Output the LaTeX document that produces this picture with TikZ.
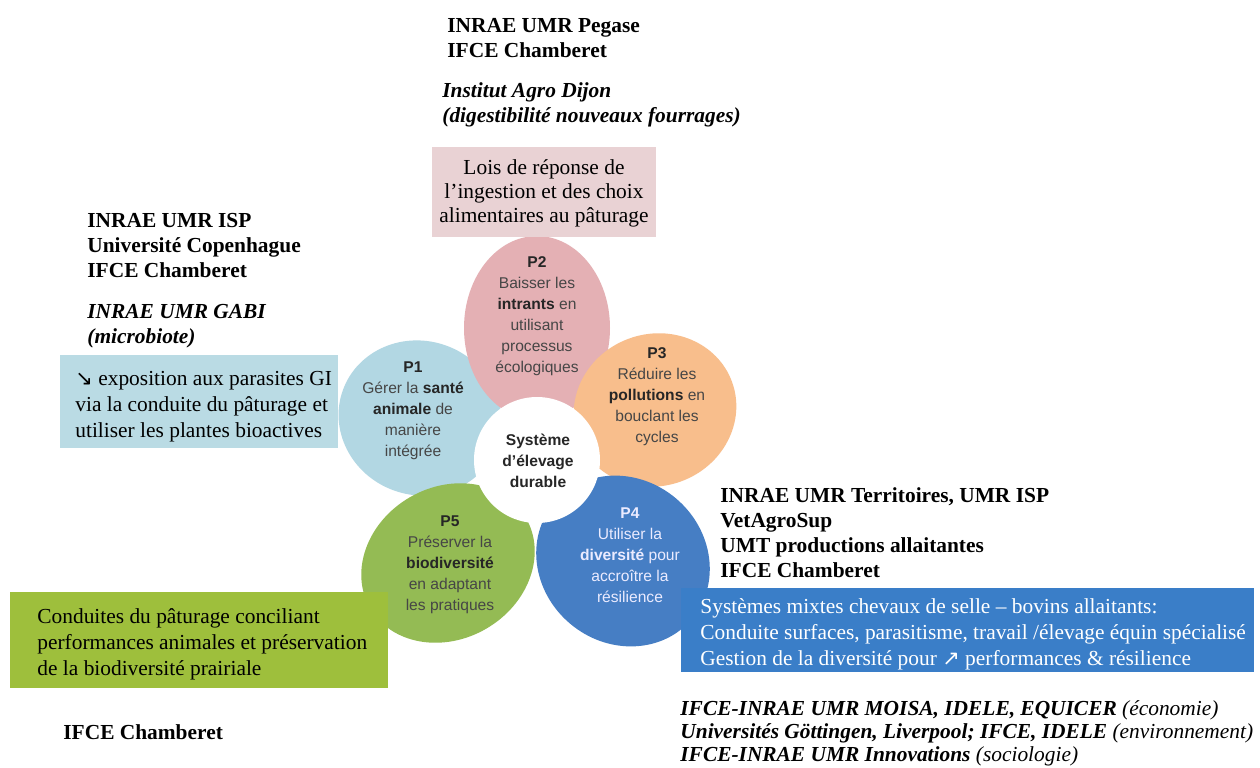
\documentclass[tikz,border=0pt]{standalone}
\usepackage{fontspec}
\setmainfont{Liberation Serif}
\setsansfont{Liberation Sans}
\newfontfamily\arrowfont{DejaVu Sans}

\definecolor{petalone}{RGB}{178,215,227}
\definecolor{petaltwo}{RGB}{228,176,180}
\definecolor{petalthree}{RGB}{248,190,140}
\definecolor{petalfour}{RGB}{70,126,196}
\definecolor{petalfive}{RGB}{148,187,84}
\definecolor{boxpink}{RGB}{233,210,212}
\definecolor{boxblue}{RGB}{186,219,228}
\definecolor{boxgreen}{RGB}{158,191,60}
\definecolor{boxdeep}{RGB}{58,126,200}
\definecolor{petalink}{RGB}{70,70,70}

\begin{document}
\begin{tikzpicture}[x=0.5pt, y=-0.5pt,
  partner/.style={anchor=base west, inner sep=0pt, align=left,
    font=\fontsize{10.7}{12.5}\selectfont\bfseries},
  partnerit/.style={partner, font=\fontsize{10.7}{12.5}\selectfont\bfseries\itshape},
  boxtext/.style={anchor=base west, inner sep=0pt, align=left,
    font=\fontsize{10.7}{13}\selectfont},
  petaltext/.style={align=center, inner sep=0pt, text=petalink,
    font=\sffamily\fontsize{7.8}{10.5}\selectfont}]
\useasboundingbox[fill=white] (0,0) rectangle (1260,767);

% petals
\fill[petalone] (420,418) ellipse[x radius=82, y radius=77, rotate=-20];
\fill[petaltwo] (537,328) ellipse[x radius=73, y radius=92];
\fill[petalthree] (655,410) ellipse[x radius=82, y radius=76, rotate=20];
\fill[petalfive] (448,563) ellipse[x radius=90, y radius=76, rotate=30];
\fill[petalfour] (623,561) ellipse[x radius=90, y radius=82, rotate=-40];
\fill[white] (537,460) circle[radius=63];

\node[petaltext] (p1) at (413,411) {\textbf{\color{black!85}P1}\\Gérer la \textbf{\color{black!85}santé}\\\textbf{\color{black!85}animale} de\\manière\\intégrée};
\node[petaltext] (p2) at (537,316) {\textbf{\color{black!85}P2}\\Baisser les\\\textbf{\color{black!85}intrants} en\\utilisant\\processus\\écologiques};
\node[petaltext] (p3) at (657,397) {\textbf{\color{black!85}P3}\\Réduire les\\\textbf{\color{black!85}pollutions} en\\bouclant les\\cycles};
\node[petaltext, text=white!92!blue] (p4) at (630,555) {\textbf{P4}\\Utiliser la\\\textbf{diversité} pour\\accroître la\\résilience};
\node[petaltext] (p5) at (450,565) {\textbf{\color{black!85}P5}\\Préserver la\\\textbf{\color{black!85}biodiversité}\\en adaptant\\les pratiques};
\node[petaltext, text=black!85, font=\sffamily\bfseries\fontsize{7.8}{10.5}\selectfont] (core) at (538,461) {Système\\d’élevage\\durable};

% boxes
\fill[boxpink] (432,147) rectangle (656,237);
\node[align=center, inner sep=0pt, font=\fontsize{10.7}{12}\selectfont] (ingest) at (544,193) {Lois de réponse de\\l’ingestion et des choix\\alimentaires au pâturage};
\fill[boxblue] (60,355) rectangle (338,448);
\node[boxtext] (parasite) at (75,437) {{\arrowfont\fontsize{10.5}{13}\selectfont ↘} exposition aux parasites GI\\via la conduite du pâturage et\\utiliser les plantes bioactives};
\fill[boxgreen] (10,592) rectangle (388,688);
\node[boxtext] (grazing) at (37,675) {Conduites du pâturage conciliant\\performances animales et préservation\\de la biodiversité prairiale};
\fill[boxdeep] (681,588) rectangle (1254,672);
\node[boxtext, text=white] (mixed) at (700,665) {Systèmes mixtes chevaux de selle – bovins allaitants:\\Conduite surfaces, parasitisme, travail /élevage équin spécialisé\\Gestion de la diversité pour {\arrowfont\fontsize{10.5}{13}\selectfont ↗} performances \& résilience};

% partners
\node[partner] (toppart) at (447,57) {INRAE UMR Pegase\\IFCE Chamberet};
\node[partnerit] (dijon) at (442,122) {Institut Agro Dijon\\(digestibilité nouveaux fourrages)};
\node[partner] (leftpart) at (87,277) {INRAE UMR ISP\\Université Copenhague\\IFCE Chamberet};
\node[partnerit] (gabi) at (87,343) {INRAE UMR GABI\\(microbiote)};
\node[partner] (rightpart) at (720,577) {INRAE UMR Territoires, UMR ISP\\VetAgroSup\\UMT productions allaitantes\\IFCE Chamberet};
\node[partnerit, font=\fontsize{10.7}{11.5}\selectfont\bfseries\itshape] (socio) at (680,761) {IFCE-INRAE UMR MOISA, IDELE, EQUICER \textmd{(économie)}\\Universités Göttingen, Liverpool; IFCE, IDELE \textmd{(environnement)}\\IFCE-INRAE UMR Innovations \textmd{(sociologie)}};
\node[partner] (bottompart) at (63,739) {IFCE Chamberet};
\end{tikzpicture}
\end{document}
